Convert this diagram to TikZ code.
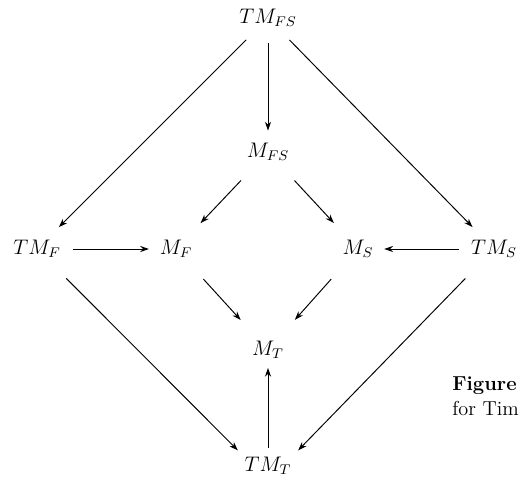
\documentclass[tikz,border=0pt]{standalone}
\usetikzlibrary{arrows.meta}
\begin{document}
\begin{tikzpicture}[x=0.02cm,y=-0.02cm,
  obj/.style={inner sep=3pt,font=\large},
  arr/.style={-{Stealth[length=5pt,width=3.5pt]},line width=0.55pt}]
\useasboundingbox (0,0) rectangle (519,493);
\node[obj] (TMFS) at (268,18) {$TM_{FS}$};
\node[obj] (MFS) at (268,152) {$M_{FS}$};
\node[obj] (TMF) at (37,249) {$TM_F$};
\node[obj] (MF) at (176,249) {$M_F$};
\node[obj] (MS) at (358,249) {$M_S$};
\node[obj] (TMS) at (494,249) {$TM_S$};
\node[obj] (MT) at (268,350) {$M_T$};
\node[obj] (TMT) at (268,466) {$TM_T$};
\node[anchor=west,inner sep=0pt,font=\fontsize{11.5}{13}\selectfont\bfseries] (fig) at (452,386) {Figure};
\node[anchor=west,inner sep=0pt,font=\fontsize{11.5}{13}\selectfont] (tim) at (452,408) {for Tim};

\draw[arr,shorten <=6pt,shorten >=4pt] (TMFS) -- (MFS);
\draw[arr,shorten <=6pt,shorten >=6pt] (TMFS) -- (TMF);
\draw[arr,shorten <=6pt,shorten >=6pt] (TMFS) -- (TMS);
\draw[arr,shorten <=11pt,shorten >=9pt] (MFS) -- (MF);
\draw[arr,shorten <=11pt,shorten >=9pt] (MFS) -- (MS);
\draw[arr,shorten <=4pt,shorten >=3pt] (TMF) -- (MF);
\draw[arr,shorten <=4pt,shorten >=3pt] (TMS) -- (MS);
\draw[arr,shorten <=12pt,shorten >=12pt] (MF) -- (MT);
\draw[arr,shorten <=12pt,shorten >=12pt] (MS) -- (MT);
\draw[arr,shorten <=12pt,shorten >=1pt] (TMF) -- (TMT.north west);
\draw[arr,shorten <=12pt,shorten >=1pt] (TMS) -- (TMT.north east);
\draw[arr,shorten <=2pt,shorten >=2pt] (TMT) -- (MT);
\end{tikzpicture}
\end{document}
